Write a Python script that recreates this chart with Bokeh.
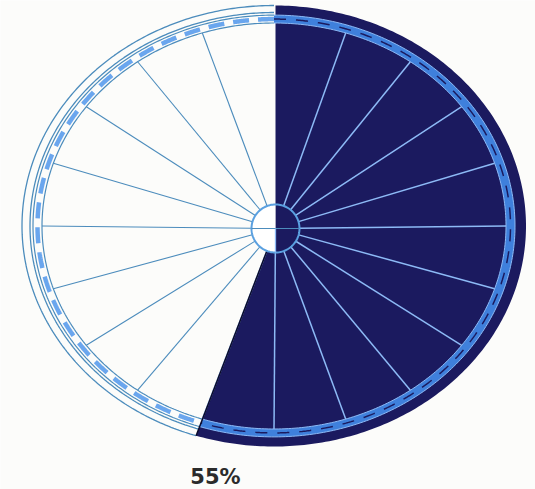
import numpy as np
from bokeh.plotting import figure
from bokeh.models import Range1d
from bokeh.core.properties import value
from bokeh.embed import file_html
from bokeh.resources import INLINE

# ---- data ----
shares = [55, 45]            # dark share, remainder (percent)
share_label = ["55%"]
spoke_count = 20

# ---- layout / style ----
W, H = 535, 489
CX, CY = 273.5, 225.5        # wheel centre (px)
HX, HY = 275.0, 228.0        # hub centre (px)
K = 0.875                    # vertical squash of the wheel
R_OUT, R_LINE2 = 252, 244
R_BAND_O, R_BAND_I = 241, 232
R_HUB = 24
NAVY = "#1b1a5f"
BAND = "#3f80dc"
LIGHT = "#8dbaf6"
WHITE_LINE = "#4c8cbc"

p = figure(width=W, height=H, x_range=Range1d(0, W), y_range=Range1d(H, 0),
           output_backend="svg", toolbar_location=None, min_border=0,
           background_fill_color="#fcfcfa", border_fill_color="#fcfcfa")
p.xaxis.visible = False
p.yaxis.visible = False
p.xgrid.visible = False
p.ygrid.visible = False
p.outline_line_color = None


def arc(r, t0, t1, n=240):
    t = np.radians(np.linspace(t0, t1, n))
    return CX + r * np.cos(t), CY - r * K * np.sin(t)


start_deg = 90.0
split_deg = start_deg - 360.0 * shares[0] / 100.0      # clockwise end of dark part
white_end = split_deg + 360.0

# dark wedge (starts straight above the hub)
ax, ay = arc(R_OUT, start_deg, split_deg)
ax[0] = HX
p.patch(np.r_[HX, ax, HX], np.r_[HY, ay, HY], fill_color=NAVY, line_color=None)

# band on dark side
bo_x, bo_y = arc(R_BAND_O, start_deg, split_deg)
bi_x, bi_y = arc(R_BAND_I, split_deg, start_deg)
p.patch(np.r_[bo_x, bi_x], np.r_[bo_y, bi_y], fill_color=BAND, line_color=None)
mx, my = arc((R_BAND_O + R_BAND_I) / 2, start_deg, split_deg, 600)
p.line(mx, my, line_color=NAVY, line_width=1.5, line_dash="12 10")
for r in (R_BAND_O, R_BAND_I):
    x, y = arc(r, start_deg, split_deg)
    p.line(x, y, line_color=LIGHT, line_width=1.0)

# rims on white side
for r, w in ((R_OUT, 1.3), (R_LINE2, 1.3), (R_BAND_O, 1.2), (R_BAND_I, 1.2)):
    x, y = arc(r, start_deg, white_end)
    p.line(x, y, line_color=WHITE_LINE, line_width=w)
mx, my = arc((R_BAND_O + R_BAND_I) / 2, start_deg, white_end, 600)
p.line(mx, my, line_color="#6aa6ee", line_width=4.5, line_dash="16 9")

# spokes
step = 360.0 / spoke_count
for i in range(1, spoke_count):
    t = start_deg - i * step
    ex = CX + R_BAND_I * np.cos(np.radians(t))
    ey = CY - R_BAND_I * K * np.sin(np.radians(t))
    dx, dy = ex - HX, ey - HY
    d = np.hypot(dx, dy)
    sx, sy = HX + R_HUB * dx / d, HY + R_HUB * dy / d
    dark = (start_deg - t) <= 360.0 * shares[0] / 100.0
    p.line([sx, ex], [sy, ey], line_color=LIGHT if dark else WHITE_LINE,
           line_width=1.5 if dark else 1.1)

# boundary edge of dark wedge
ex, ey = arc(R_OUT, split_deg, split_deg, 1)
p.line([HX, ex[0]], [HY, ey[0]], line_color="#0b0b2a", line_width=1.5)

# hub
ht_r = np.radians(np.linspace(90, -90, 60))
p.patch(HX + R_HUB * np.cos(ht_r), HY - R_HUB * np.sin(ht_r), fill_color=NAVY, line_color=None)
ht_l = np.radians(np.linspace(90, 270, 60))
p.patch(HX + R_HUB * np.cos(ht_l), HY - R_HUB * np.sin(ht_l), fill_color="white", line_color=None)
hc = np.radians(np.linspace(0, 360, 120))
p.line(HX + R_HUB * np.cos(hc), HY - R_HUB * np.sin(hc), line_color="#5aa0e0", line_width=2)
p.line([HX - R_HUB, HX + R_HUB], [HY, HY], line_color=WHITE_LINE, line_width=1.1)
p.line([HX, HX], [HY, HY + R_HUB], line_color=LIGHT, line_width=1.3)

# label
p.text(x=[215], y=[476], text=share_label, text_align="center", text_baseline="middle",
       text_font=value("DejaVu Sans"), text_font_style="bold", text_font_size="21px",
       text_color="#2b2b2b")

open("out.html", "w").write(file_html(p, INLINE))
